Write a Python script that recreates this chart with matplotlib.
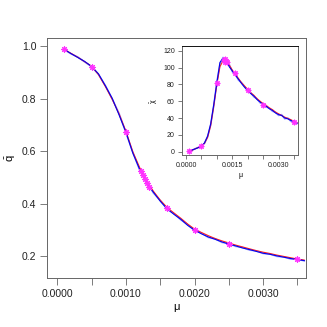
import numpy as np
import matplotlib
matplotlib.use("Agg")
import matplotlib.pyplot as plt

plt.rcParams['font.family'] = ['Liberation Sans', 'DejaVu Sans']
plt.rcParams['mathtext.fontset'] = 'custom'
plt.rcParams['mathtext.rm'] = 'Liberation Sans'
plt.rcParams['mathtext.it'] = 'Liberation Sans'

# ---------------- data ----------------
mu = [0.0001, 0.0002, 0.0003, 0.0004, 0.0005, 0.0006, 0.0007, 0.0008, 0.0009,
      0.0010, 0.0011, 0.0012, 0.0013, 0.0014, 0.0015, 0.0016, 0.0017, 0.0018,
      0.0019, 0.0020, 0.0021, 0.0022, 0.0023, 0.0024, 0.0025, 0.0026, 0.0027,
      0.0028, 0.0029, 0.0030, 0.0031, 0.0032, 0.0033, 0.0034, 0.0035, 0.0036]

q_red = [0.987, 0.972, 0.957, 0.940, 0.923, 0.891, 0.846, 0.797, 0.742,
         0.676, 0.598, 0.538, 0.486, 0.448, 0.414, 0.386, 0.365, 0.345,
         0.323, 0.304, 0.291, 0.279, 0.268, 0.259, 0.251, 0.243, 0.236,
         0.229, 0.222, 0.216, 0.211, 0.205, 0.200, 0.195, 0.190, 0.186]
q_blue = [0.987, 0.971, 0.956, 0.941, 0.922, 0.894, 0.849, 0.801, 0.738,
          0.672, 0.593, 0.531, 0.480, 0.444, 0.410, 0.381, 0.360, 0.341,
          0.318, 0.300, 0.286, 0.274, 0.265, 0.255, 0.247, 0.240, 0.232,
          0.226, 0.219, 0.212, 0.208, 0.202, 0.197, 0.192, 0.188, 0.184]
q_light = [0.986, 0.970, 0.958, 0.939, 0.921, 0.892, 0.850, 0.799, 0.744,
           0.670, 0.596, 0.528, 0.484, 0.441, 0.413, 0.379, 0.363, 0.339,
           0.321, 0.298, 0.289, 0.272, 0.267, 0.253, 0.249, 0.238, 0.234,
           0.224, 0.221, 0.211, 0.209, 0.200, 0.198, 0.190, 0.189, 0.183]

chi_red = [0.5, 1.8, 3.5, 5.0, 6.5, 10.0, 17.0, 31.0, 54.0,
           80.0, 101.0, 108.0, 108.0, 103.0, 97.0, 92.0, 87.0, 82.0,
           78.0, 74.0, 70.0, 67.0, 63.0, 60.0, 57.0, 55.0, 52.0,
           50.0, 47.0, 45.0, 43.0, 41.0, 39.5, 38.0, 36.0, 34.5]
chi_blue = [0.5, 2.0, 3.3, 4.8, 6.2, 10.5, 18.5, 33.0, 56.0,
            82.0, 106.0, 111.0, 109.0, 101.0, 96.0, 91.0, 86.0, 81.0,
            76.5, 73.0, 69.0, 66.0, 62.0, 59.0, 56.0, 54.0, 51.0,
            49.0, 46.0, 44.0, 43.0, 40.0, 39.0, 37.0, 35.5, 34.0]
chi_light = [0.6, 1.7, 3.6, 5.1, 6.8, 9.8, 17.8, 32.0, 55.0,
             83.0, 104.0, 112.0, 106.0, 104.0, 95.0, 92.0, 85.0, 82.0,
             77.0, 72.0, 70.0, 65.0, 63.0, 58.0, 57.0, 53.0, 52.0,
             48.0, 47.0, 43.0, 44.0, 39.0, 40.0, 36.0, 36.0, 33.5]

star_mu = [0.0001, 0.0005, 0.0010, 0.00122, 0.00125, 0.00128, 0.00131, 0.00134,
           0.0016, 0.0020, 0.0025, 0.0035]
star_q = [0.987, 0.922, 0.674, 0.525, 0.510, 0.495, 0.478, 0.462,
          0.383, 0.300, 0.248, 0.189]
star_chi = [0.5, 6.5, 82.0, 109.0, 107.0, 110.0, 108.0, 106.0,
            93.0, 73.5, 56.0, 35.0]

# ---------------- figure ----------------
fig = plt.figure(figsize=(3.27, 3.27), dpi=100)
gray = '#666666'
star_marker = (8, 2, 0)


def style_axes(ax, ticklen, fs, topcolor=gray):
    for s in ['left', 'bottom', 'right']:
        ax.spines[s].set_color(gray)
        ax.spines[s].set_linewidth(0.7)
    ax.spines['top'].set_color(topcolor)
    ax.spines['top'].set_linewidth(0.7)
    ax.tick_params(direction='out', length=ticklen, width=0.6, color=gray,
                   labelsize=fs, labelcolor='#222222')


# main axes
ax = fig.add_axes([0.1447, 0.1489, 0.9358 - 0.1447, 0.8829 - 0.1489])
ax.plot(mu, q_light, color='#8080ff', lw=1.2, alpha=0.7)
ax.plot(mu, q_red, color='#ff2020', lw=0.8)
ax.plot(mu, q_blue, color='#0000ee', lw=0.8)
ax.plot(star_mu, star_q, linestyle='none', marker=star_marker, color='#ff33ff',
        markersize=4.5, markeredgewidth=0.8)
ax.set_xlim(-0.000146, 0.003625)
ax.set_ylim(0.1167, 1.0293)
ax.set_xticks([0.0, 0.0005, 0.0010, 0.0015, 0.0020, 0.0025, 0.0030, 0.0035])
ax.set_xticklabels(['0.0000', '', '0.0010', '', '0.0020', '', '0.0030', ''])
ax.set_yticks([0.2, 0.4, 0.6, 0.8, 1.0])
ax.set_yticklabels(['0.2', '0.4', '0.6', '0.8', '1.0'])
style_axes(ax, 5, 7.5)
ax.tick_params(axis='x', pad=3)
ax.tick_params(axis='y', pad=3)
ax.set_xlabel('μ', fontsize=8, labelpad=2)
ax.set_ylabel(r'$\bar{\mathrm{q}}$', fontsize=8, rotation=90, labelpad=3)

# inset axes
ins = fig.add_axes([0.5557, 0.5251, 0.9122 - 0.5557, 0.8584 - 0.5251])
ins.plot(mu, chi_light, color='#8080ff', lw=1.2, alpha=0.7)
ins.plot(mu, chi_red, color='#ff2020', lw=0.8)
ins.plot(mu, chi_blue, color='#0000ee', lw=0.8)
ins.plot(star_mu, star_chi, linestyle='none', marker=star_marker, color='#ff33ff',
         markersize=4, markeredgewidth=0.8)
ins.set_xlim(-0.000139, 0.003639)
ins.set_ylim(-4.3, 125.2)
ins.set_xticks([0.0, 0.0005, 0.0010, 0.0015, 0.0020, 0.0025, 0.0030, 0.0035])
ins.set_xticklabels(['0.0000', '', '', '0.0015', '', '', '0.0030', ''])
ins.set_yticks([0, 20, 40, 60, 80, 100, 120])
ins.set_yticklabels(['0', '20', '40', '60', '80', '100', '120'])
style_axes(ins, 3, 5, topcolor='#111111')
ins.tick_params(axis='x', pad=2)
ins.tick_params(axis='y', pad=2)
ins.set_xlabel('μ', fontsize=5, labelpad=2)
ins.set_ylabel(r'$\bar{\chi}$', fontsize=5, labelpad=2)

fig.savefig('out.png', dpi=100)
